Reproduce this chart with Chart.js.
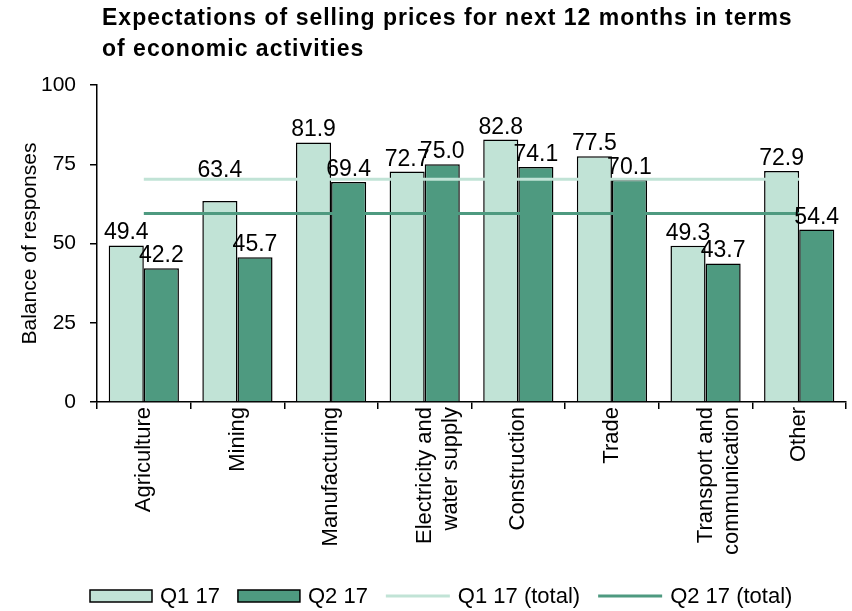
<!DOCTYPE html>
<html>
<head>
<meta charset="utf-8">
<script src="https://cdn.jsdelivr.net/npm/chart.js@4/dist/chart.umd.min.js"></script>
<style>
  html, body { margin: 0; padding: 0; background: #fff; }
  #wrap { width: 852px; height: 611px; position: relative; }
</style>
</head>
<body>
<div id="wrap"><canvas id="myChart" width="852" height="611"></canvas></div>
<script>
'use strict'

var categories = ['Agriculture', 'Mining', 'Manufacturing', ['Electricity and', 'water supply'],
  'Construction', 'Trade', ['Transport and', 'communication'], 'Other'];
var q1Values = [49.4, 63.4, 81.9, 72.7, 82.8, 77.5, 49.3, 72.9];
var q2Values = [42.2, 45.7, 69.4, 75.0, 74.1, 70.1, 43.7, 54.4];
var q1Total = [70.3, 70.3, 70.3, 70.3, 70.3, 70.3, 70.3, 70.3];
var q2Total = [59.5, 59.5, 59.5, 59.5, 59.5, 59.5, 59.5, 59.5];
var yTicks = [0, 25, 50, 75, 100];

var titleLines = ['Expectations of selling prices for next 12 months in terms', 'of economic activities'];
var seriesNames = ['Q1 17', 'Q2 17', 'Q1 17 (total)', 'Q2 17 (total)'];

var FONT = '"Liberation Sans", Arial, sans-serif';
var lightGreen = '#c1e3d6';
var darkGreen = '#4e9a80';

Chart.defaults.color = '#000';
Chart.defaults.font.family = FONT;

// the Mining Q1 label sits higher in the original (above the total line)
var labelLift = { '0-1': 18 };

// bar values, chart title and legend are drawn here (no datalabels plugin offline)
var extras = {
  id: 'extras',
  afterDatasetsDraw: function(chart) {
    var ctx = chart.ctx;
    ctx.save();
    ctx.fillStyle = '#000';
    ctx.font = '23px ' + FONT;
    ctx.textAlign = 'center';
    ctx.textBaseline = 'alphabetic';
    [0, 1].forEach(function(i) {
      var meta = chart.getDatasetMeta(i);
      var vals = chart.data.datasets[i].data;
      meta.data.forEach(function(bar, j) {
        var lift = labelLift[i + '-' + j] || 0;
        ctx.fillText(vals[j].toFixed(1), bar.x, bar.y - 6 - lift);
      });
    });
    ctx.restore();
  },
  afterDraw: function(chart) {
    var ctx = chart.ctx;
    ctx.save();
    ctx.fillStyle = '#000';
    ctx.font = 'bold 23px ' + FONT;
    ctx.letterSpacing = '1px';
    ctx.textAlign = 'left';
    ctx.textBaseline = 'alphabetic';
    ctx.fillText(titleLines[0], 102, 25);
    ctx.fillText(titleLines[1], 102, 56);
    ctx.letterSpacing = '0px';

    // legend
    var y = 596;
    ctx.font = '22px ' + FONT;
    ctx.textBaseline = 'middle';
    var kinds = ['box', 'box', 'line', 'line'];
    var colors = [lightGreen, darkGreen, lightGreen, darkGreen];
    var x = 90;
    kinds.forEach(function(kind, i) {
      if (kind === 'box') {
        ctx.fillStyle = colors[i];
        ctx.fillRect(x, y - 6, 62, 12);
        ctx.strokeStyle = '#000';
        ctx.lineWidth = 1.5;
        ctx.strokeRect(x, y - 6, 62, 12);
      } else {
        ctx.strokeStyle = colors[i];
        ctx.lineWidth = 3;
        ctx.beginPath();
        ctx.moveTo(x, y);
        ctx.lineTo(x + 64, y);
        ctx.stroke();
      }
      x += (kind === 'box' ? 62 : 64) + 8;
      ctx.fillStyle = '#000';
      ctx.fillText(seriesNames[i], x, y + 1);
      x += ctx.measureText(seriesNames[i]).width + 18;
    });
    ctx.restore();
  }
};

var ctx = document.getElementById('myChart');

var chart = new Chart(ctx, {
  type: 'bar',
  data: {
    labels: categories,
    datasets: [{
      label: seriesNames[0],
      data: q1Values,
      backgroundColor: lightGreen,
      borderColor: '#000',
      borderWidth: 1.5,
      order: 1
    },
    {
      label: seriesNames[1],
      data: q2Values,
      backgroundColor: darkGreen,
      borderColor: '#000',
      borderWidth: 1.5,
      order: 1
    },
    {
      type: 'line',
      label: seriesNames[2],
      data: q1Total,
      borderColor: lightGreen,
      borderWidth: 3,
      pointRadius: 0,
      order: 0
    },
    {
      type: 'line',
      label: seriesNames[3],
      data: q2Total,
      borderColor: darkGreen,
      borderWidth: 3,
      pointRadius: 0,
      order: 0
    }]
  },
  options: {
    responsive: false,
    animation: false,
    categoryPercentage: 0.75,
    barPercentage: 1.0,
    layout: { padding: { top: 85, right: 6, bottom: 0, left: 0 } },
    plugins: {
      legend: { display: false },
      tooltip: { enabled: false }
    },
    scales: {
      x: {
        offset: true,
        grid: { offset: true, drawOnChartArea: false, drawTicks: true, tickLength: 7, color: '#000', lineWidth: 1.5 },
        border: { display: true, color: '#000', width: 1.5 },
        ticks: { minRotation: 90, maxRotation: 90, autoSkip: false, padding: -2, font: { size: 22 } },
        afterFit: function(scale) { scale.height = 209; }
      },
      y: {
        min: 0,
        max: 100,
        afterBuildTicks: function(scale) {
          scale.ticks = yTicks.map(function(v) { return { value: v }; });
        },
        grid: { drawOnChartArea: false, drawTicks: true, tickLength: 7, color: '#000', lineWidth: 1.5 },
        border: { display: true, color: '#000', width: 1.5 },
        ticks: { padding: 14, font: { size: 21 } },
        title: { display: true, text: 'Balance of responses', font: { size: 21 }, padding: { top: 18, bottom: 0 } },
        afterFit: function(scale) { scale.width = 97; }
      }
    }
  },
  plugins: [extras]
});
</script>
</body>
</html>
